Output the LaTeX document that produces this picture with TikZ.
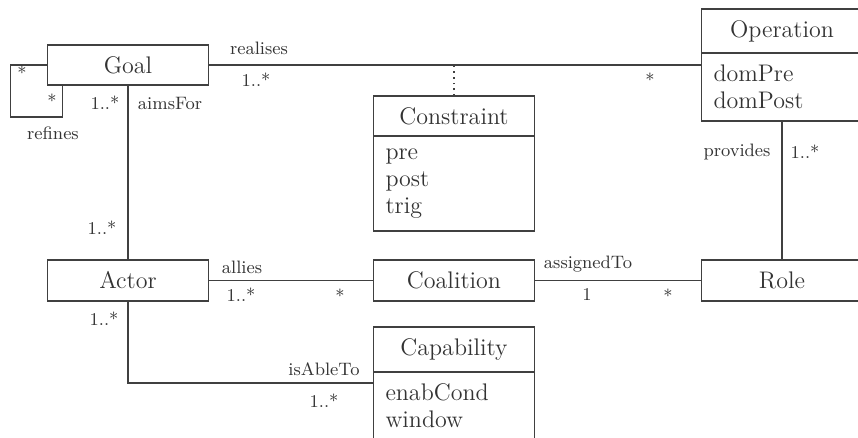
\documentclass[tikz,border=0pt]{standalone}
\usepackage{tikz}
\usetikzlibrary{positioning}
\definecolor{umlgray}{HTML}{404040}

\begin{document}
\begin{tikzpicture}[x=0.5pt,y=-0.5pt,
    classbox/.style={draw=umlgray, line width=0.9pt, minimum width=80.5pt,
      minimum height=20.5pt, inner sep=0pt, outer sep=0pt, text=black!80,
      font=\fontsize{12}{13.5}\selectfont},
    attrbox/.style={classbox, anchor=north, text width=68.5pt,
      inner xsep=6pt, align=left},
    endlbl/.style={font=\fontsize{9}{10.5}\selectfont, text=black!80, inner sep=0pt},
    assoc/.style={draw=umlgray, line width=0.9pt}]
  \useasboundingbox (0,0) rectangle (858,438);
  \clip (0,0) rectangle (858,438);

  % Classes
  \node[classbox, minimum height=20pt] (Goal) at (128,65) {Goal};
  \node[classbox] (Actor) at (128,280.5) {Actor};
  \node[classbox] (Coalition) at (454,280.5) {Coalition};
  \node[classbox] (Role) at (782,280.5) {Role};

  \node[classbox, minimum height=22pt] (Operation) at (782,31) {Operation};
  \node[attrbox, minimum height=34pt] (OperationAttr) at (Operation.south) {domPre\\domPost};

  \node[classbox, minimum height=20pt] (Constraint) at (454,116) {Constraint};
  \node[attrbox, minimum height=47.5pt] (ConstraintAttr) at (Constraint.south) {pre\\post\\trig};

  \node[classbox, minimum height=22.5pt] (Capability) at (454,349.5) {Capability};
  \node[attrbox, minimum height=34pt] (CapabilityAttr) at (Capability.south) {enabCond\\window};

  % Associations
  \draw[assoc] (Goal.east) -- (Goal.east -| OperationAttr.west);
  \draw[assoc, dotted] (Constraint.north) -- (Constraint.north |- Goal.east);
  \draw[assoc] (Goal.west) -- ++(-37,0) -- ++(0,52) -| ([xshift=7.5pt]Goal.south west);
  \draw[assoc] (Goal) -- (Actor);
  \draw[assoc] (Actor) -- (Coalition);
  \draw[assoc] (Coalition) -- (Role);
  \draw[assoc] (OperationAttr) -- (Role);
  \draw[assoc] (Actor) |- ([yshift=-5.5pt]CapabilityAttr.north west);

  % Role names and multiplicities
  \node[endlbl] (lRealises) at (259,48) {realises};
  \node[endlbl] (mRealisesA) at (256,80) {1..*};
  \node[endlbl] (mRealisesB) at (650,80) {*};

  \node[endlbl] (mRefinesA) at (22,73) {*};
  \node[endlbl] (mRefinesB) at (52,101) {*};
  \node[endlbl] (lRefines) at (53,133) {refines};

  \node[endlbl] (mAimsA) at (105,103) {1..*};
  \node[endlbl] (lAims) at (170,103) {aimsFor};
  \node[endlbl] (mAimsB) at (102,228) {1..*};

  \node[endlbl] (lAllies) at (242,267) {allies};
  \node[endlbl] (mAlliesA) at (241,295) {1..*};
  \node[endlbl] (mAlliesB) at (340,296) {*};

  \node[endlbl] (lAssigned) at (588,264) {assignedTo};
  \node[endlbl] (mAssignedA) at (587,295) {1};
  \node[endlbl] (mAssignedB) at (668,296) {*};

  \node[endlbl] (lProvides) at (737,152) {provides};
  \node[endlbl] (mProvides) at (805,152) {1..*};

  \node[endlbl] (mAbleA) at (104,319) {1..*};
  \node[endlbl] (lAble) at (324,369) {isAbleTo};
  \node[endlbl] (mAbleB) at (324,401) {1..*};
\end{tikzpicture}
\end{document}
